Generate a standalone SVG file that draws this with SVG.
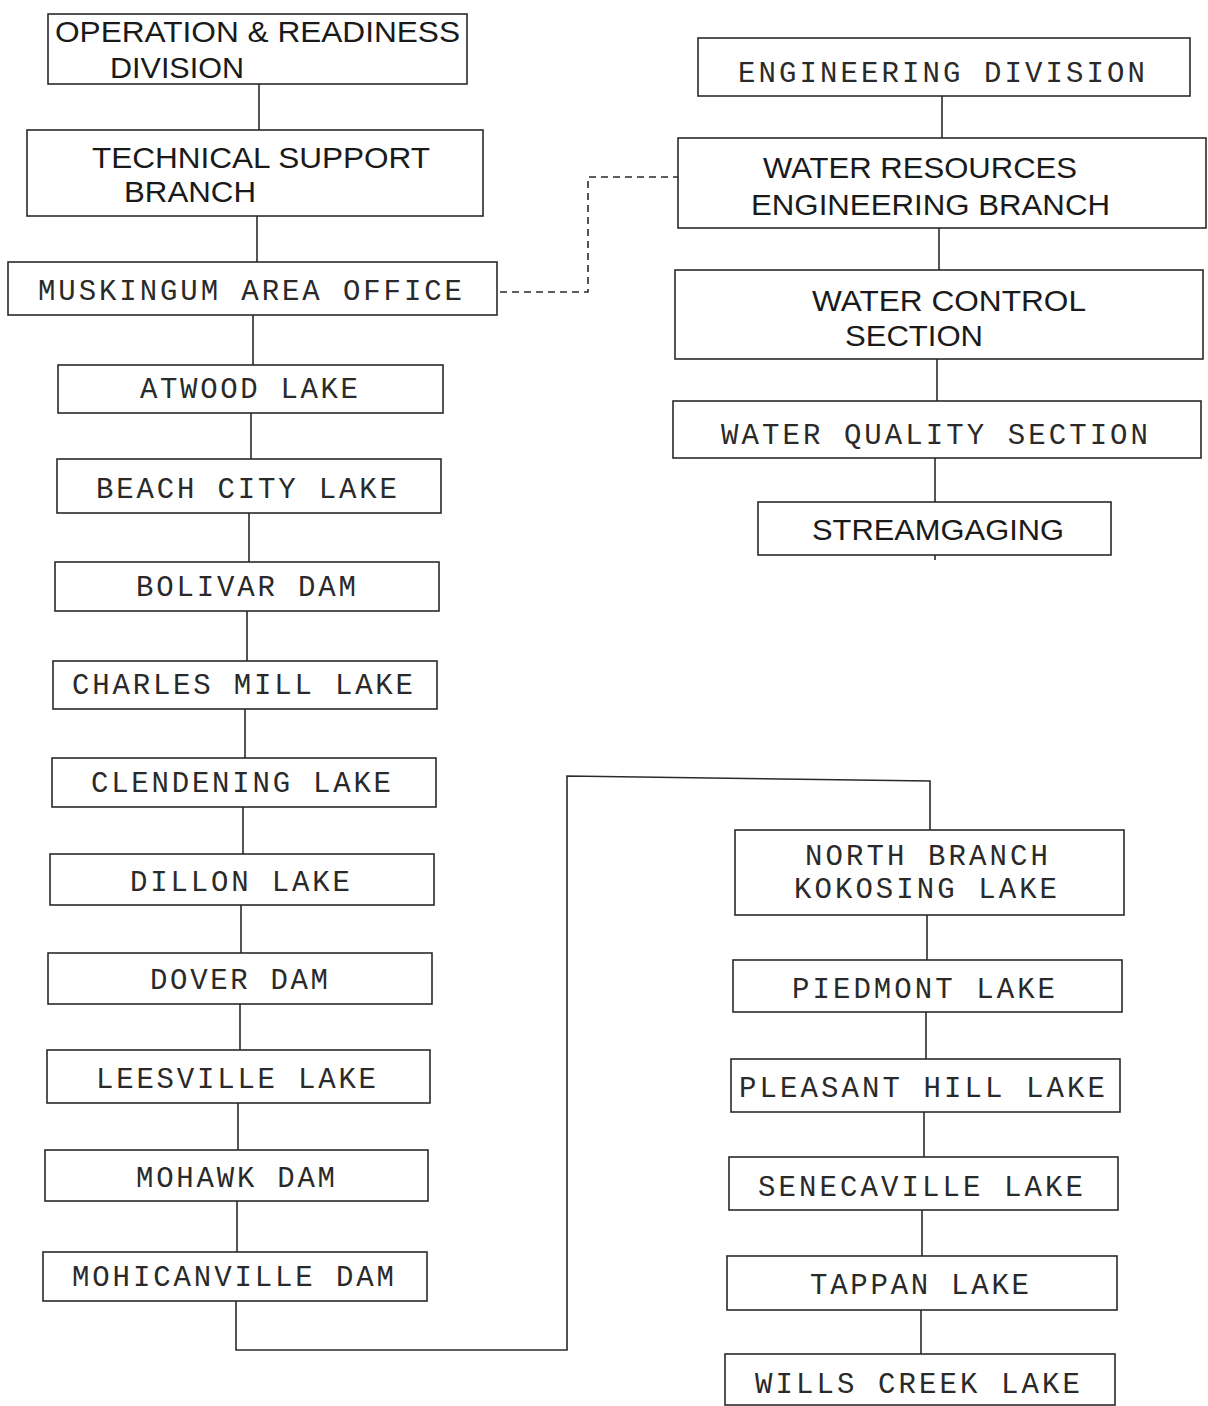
<svg xmlns="http://www.w3.org/2000/svg" width="1208" height="1406" viewBox="0 0 1208 1406">
<style>
.box{fill:#fff;stroke:#2a2a2a;stroke-width:1.6}
.c{fill:none;stroke:#2a2a2a;stroke-width:1.6}
.d{fill:none;stroke:#2a2a2a;stroke-width:1.6;stroke-dasharray:7,5}
.h{font-family:"Liberation Sans",Arial,sans-serif;font-size:30px;fill:#1a1a1a}
.m{font-family:"Liberation Mono","DejaVu Sans Mono",monospace;font-size:29px;fill:#2a2a2a}
</style>
<rect width="1208" height="1406" fill="#fff"/>
<g id="connectors">
<line class="c" x1="259" y1="84" x2="259" y2="130"/>
<line class="c" x1="257" y1="216" x2="257" y2="262"/>
<line class="c" x1="253" y1="315" x2="253" y2="365"/>
<line class="c" x1="251" y1="413" x2="251" y2="459"/>
<line class="c" x1="249" y1="513" x2="249" y2="562"/>
<line class="c" x1="247" y1="611" x2="247" y2="661"/>
<line class="c" x1="245" y1="709" x2="245" y2="758"/>
<line class="c" x1="243" y1="807" x2="243" y2="854"/>
<line class="c" x1="241" y1="905" x2="241" y2="953"/>
<line class="c" x1="240" y1="1004" x2="240" y2="1050"/>
<line class="c" x1="238" y1="1103" x2="238" y2="1150"/>
<line class="c" x1="237" y1="1201" x2="237" y2="1252"/>
<polyline class="c" points="236,1301 236,1350 567,1350 567,776 930,781 930,830"/>
<polyline class="d" points="500,292 588,292 588,177 678,177"/>
<line class="c" x1="942" y1="96" x2="942" y2="138"/>
<line class="c" x1="939" y1="228" x2="939" y2="270"/>
<line class="c" x1="937" y1="359" x2="937" y2="401"/>
<line class="c" x1="935" y1="458" x2="935" y2="502"/>
<line class="c" x1="935" y1="555" x2="935" y2="560"/>
<line class="c" x1="927" y1="915" x2="927" y2="960"/>
<line class="c" x1="926" y1="1012" x2="926" y2="1059"/>
<line class="c" x1="924" y1="1112" x2="924" y2="1157"/>
<line class="c" x1="922" y1="1210" x2="922" y2="1256"/>
<line class="c" x1="921" y1="1310" x2="921" y2="1354"/>
</g>
<g id="operation-readiness"><rect class="box" x="48" y="14" width="419" height="70"/><text class="h" x="55" y="42" textLength="405" lengthAdjust="spacingAndGlyphs">OPERATION &amp; READINESS</text><text class="h" x="110" y="78" textLength="134" lengthAdjust="spacingAndGlyphs">DIVISION</text></g>
<g id="technical-support"><rect class="box" x="27" y="130" width="456" height="86"/><text class="h" x="92" y="168" textLength="338" lengthAdjust="spacingAndGlyphs">TECHNICAL SUPPORT</text><text class="h" x="124" y="202" textLength="132" lengthAdjust="spacingAndGlyphs">BRANCH</text></g>
<g id="muskingum"><rect class="box" x="8" y="262" width="489" height="53"/><text class="m" x="38" y="300" textLength="424" lengthAdjust="spacing">MUSKINGUM AREA OFFICE</text></g>
<g id="atwood"><rect class="box" x="58" y="365" width="385" height="48"/><text class="m" x="140" y="398" textLength="218" lengthAdjust="spacing">ATWOOD LAKE</text></g>
<g id="beach-city"><rect class="box" x="57" y="459" width="384" height="54"/><text class="m" x="96" y="498" textLength="301" lengthAdjust="spacing">BEACH CITY LAKE</text></g>
<g id="bolivar"><rect class="box" x="55" y="562" width="384" height="49"/><text class="m" x="136" y="596" textLength="220" lengthAdjust="spacing">BOLIVAR DAM</text></g>
<g id="charles-mill"><rect class="box" x="53" y="661" width="384" height="48"/><text class="m" x="72" y="694" textLength="341" lengthAdjust="spacing">CHARLES MILL LAKE</text></g>
<g id="clendening"><rect class="box" x="52" y="758" width="384" height="49"/><text class="m" x="91" y="792" textLength="300" lengthAdjust="spacing">CLENDENING LAKE</text></g>
<g id="dillon"><rect class="box" x="50" y="854" width="384" height="51"/><text class="m" x="130" y="891" textLength="220" lengthAdjust="spacing">DILLON LAKE</text></g>
<g id="dover"><rect class="box" x="48" y="953" width="384" height="51"/><text class="m" x="150" y="989" textLength="178" lengthAdjust="spacing">DOVER DAM</text></g>
<g id="leesville"><rect class="box" x="47" y="1050" width="383" height="53"/><text class="m" x="96" y="1088" textLength="280" lengthAdjust="spacing">LEESVILLE LAKE</text></g>
<g id="mohawk"><rect class="box" x="45" y="1150" width="383" height="51"/><text class="m" x="136" y="1187" textLength="199" lengthAdjust="spacing">MOHAWK DAM</text></g>
<g id="mohicanville"><rect class="box" x="43" y="1252" width="384" height="49"/><text class="m" x="72" y="1286" textLength="322" lengthAdjust="spacing">MOHICANVILLE DAM</text></g>
<g id="engineering-division"><rect class="box" x="698" y="38" width="492" height="58"/><text class="m" x="738" y="82" textLength="407" lengthAdjust="spacing">ENGINEERING DIVISION</text></g>
<g id="water-resources"><rect class="box" x="678" y="138" width="528" height="90"/><text class="h" x="763" y="178" textLength="314" lengthAdjust="spacingAndGlyphs">WATER RESOURCES</text><text class="h" x="751" y="215" textLength="359" lengthAdjust="spacingAndGlyphs">ENGINEERING BRANCH</text></g>
<g id="water-control"><rect class="box" x="675" y="270" width="528" height="89"/><text class="h" x="812" y="311" textLength="274" lengthAdjust="spacingAndGlyphs">WATER CONTROL</text><text class="h" x="845" y="346" textLength="138" lengthAdjust="spacingAndGlyphs">SECTION</text></g>
<g id="water-quality"><rect class="box" x="673" y="401" width="528" height="57"/><text class="m" x="721" y="444" textLength="427" lengthAdjust="spacing">WATER QUALITY SECTION</text></g>
<g id="streamgaging"><rect class="box" x="758" y="502" width="353" height="53"/><text class="h" x="812" y="540" textLength="252" lengthAdjust="spacingAndGlyphs">STREAMGAGING</text></g>
<g id="north-branch-kokosing"><rect class="box" x="735" y="830" width="389" height="85"/><text class="m" x="805" y="865" textLength="243" lengthAdjust="spacing">NORTH BRANCH</text><text class="m" x="794" y="898" textLength="263" lengthAdjust="spacing">KOKOSING LAKE</text></g>
<g id="piedmont"><rect class="box" x="733" y="960" width="389" height="52"/><text class="m" x="792" y="998" textLength="263" lengthAdjust="spacing">PIEDMONT LAKE</text></g>
<g id="pleasant-hill"><rect class="box" x="731" y="1059" width="389" height="53"/><text class="m" x="739" y="1097" textLength="366" lengthAdjust="spacing">PLEASANT HILL LAKE</text></g>
<g id="senecaville"><rect class="box" x="729" y="1157" width="389" height="53"/><text class="m" x="758" y="1196" textLength="325" lengthAdjust="spacing">SENECAVILLE LAKE</text></g>
<g id="tappan"><rect class="box" x="727" y="1256" width="390" height="54"/><text class="m" x="810" y="1294" textLength="219" lengthAdjust="spacing">TAPPAN LAKE</text></g>
<g id="wills-creek"><rect class="box" x="725" y="1354" width="390" height="51"/><text class="m" x="755" y="1393" textLength="325" lengthAdjust="spacing">WILLS CREEK LAKE</text></g>
</svg>
